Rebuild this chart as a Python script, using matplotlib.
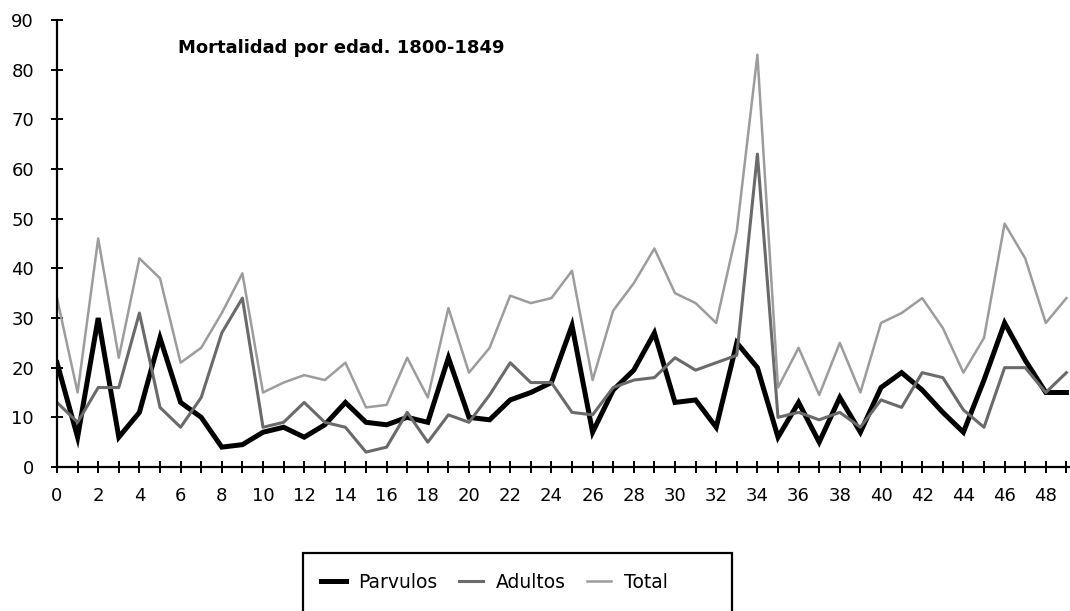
import matplotlib
matplotlib.use("Agg")
import matplotlib.pyplot as plt
from matplotlib.patches import Rectangle

# edad (years 0..49)
edad = list(range(0, 50))

parvulos = [21, 6, 30, 6, 11, 26, 13, 10, 4, 4.5,
            7, 8, 6, 8.5, 13, 9, 8.5, 10, 9, 22,
            10, 9.5, 13.5, 15, 17, 28.5, 7, 15.5, 19.5, 27,
            13, 13.5, 8, 25, 20, 6, 13, 5, 14, 7,
            16, 19, 15.5, 11, 7, 17.5, 29, 21.5, 15, 15]

adultos = [13, 9, 16, 16, 31, 12, 8, 14, 27, 34,
           8, 9, 13, 9, 8, 3, 4, 11, 5, 10.5,
           9, 14.5, 21, 17, 17, 11, 10.5, 16, 17.5, 18,
           22, 19.5, 21, 22.5, 63, 10, 11, 9.5, 11, 8,
           13.5, 12, 19, 18, 11.5, 8, 20, 20, 15, 19]

total = [34, 15, 46, 22, 42, 38, 21, 24, 31, 39,
         15, 17, 18.5, 17.5, 21, 12, 12.5, 22, 14, 32,
         19, 24, 34.5, 33, 34, 39.5, 17.5, 31.5, 37, 44,
         35, 33, 29, 47.5, 83, 16, 24, 14.5, 25, 15,
         29, 31, 34, 28, 19, 26, 49, 42, 29, 34]

titulo = "Mortalidad por edad. 1800-1849"

fig = plt.figure(figsize=(10.7, 6.11), dpi=100)
# axes run past the right edge, like the cropped original
ax = fig.add_axes([57 / 1070, 144 / 611, 1030 / 1070, 447 / 611])

ax.plot(edad, parvulos, color="black", lw=3.6, label="Parvulos", solid_joinstyle="miter")
ax.plot(edad, adultos, color="#6a6a6a", lw=2.2, label="Adultos")
ax.plot(edad, total, color="#9c9c9c", lw=1.8, label="Total")

ax.set_xlim(0, 50)
ax.set_ylim(0, 90)
ax.set_yticks(range(0, 91, 10))
ax.set_xticks(range(0, 50))
ax.set_xticklabels([str(i) if i % 2 == 0 else "" for i in range(0, 50)])

for s in ["top", "right"]:
    ax.spines[s].set_visible(False)
for s in ["left", "bottom"]:
    ax.spines[s].set_linewidth(1.6)
    ax.spines[s].set_color("black")

ax.tick_params(axis="both", direction="inout", length=9, width=1.4, labelsize=13, colors="black")
ax.tick_params(axis="x", pad=10)
ax.tick_params(axis="y", pad=12)

fig.text(178 / 1070, 1 - 48 / 611, titulo, fontsize=13, fontweight="bold", va="center", ha="left")

# legend box, cut off at the bottom edge as in the original
fig.patches.append(Rectangle((303 / 1070, -20 / 611), 429 / 1070, 78 / 611,
                             transform=fig.transFigure, fill=False,
                             edgecolor="black", linewidth=1.6))
leg = fig.legend(loc="center left", bbox_to_anchor=(308 / 1070, 1 - 582 / 611), ncol=3,
                 frameon=False, fontsize=13.5, handlelength=1.3,
                 columnspacing=1.1, handletextpad=0.7, borderpad=0.2)

fig.savefig("out.png", dpi=100)
